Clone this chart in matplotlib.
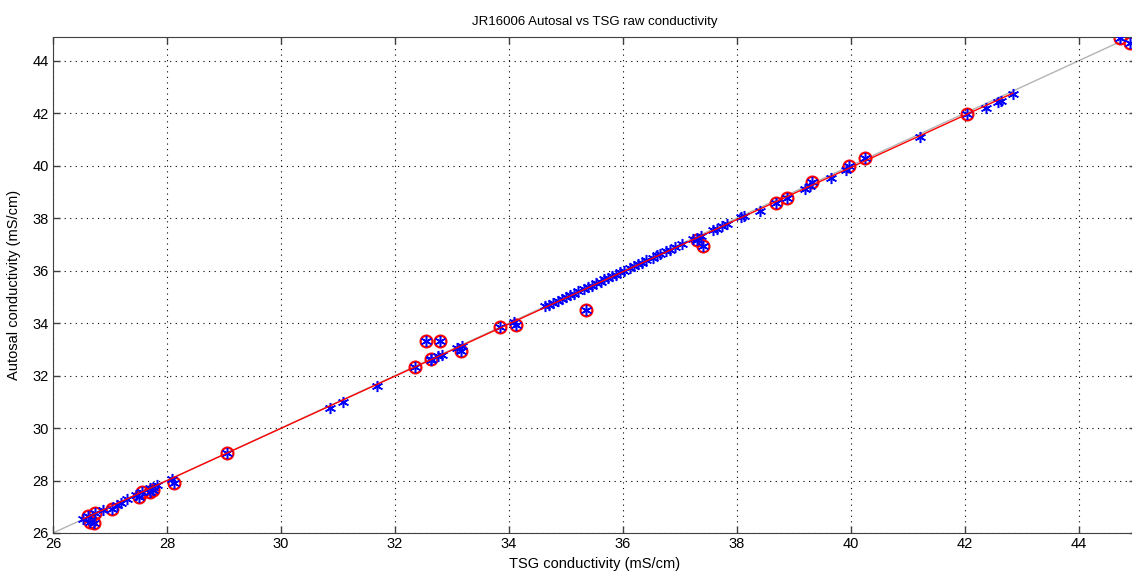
import numpy as np
import matplotlib
matplotlib.use("Agg")
import matplotlib.pyplot as plt

plt.rcParams["font.family"] = ["Liberation Sans Narrow", "Liberation Sans", "DejaVu Sans"]

# samples kept by the fit (TSG vs Autosal, mS/cm)
good_tsg = [26.53, 26.88, 27.12, 27.20, 27.29, 27.45, 27.70, 27.82, 28.08,
            30.86, 31.09, 31.68,
            32.64, 32.76, 32.82, 33.08, 33.17, 34.08,
            34.63, 34.70, 34.77, 34.86, 34.93, 35.00, 35.07, 35.14, 35.21, 35.32,
            35.39, 35.46, 35.53, 35.61, 35.67, 35.74, 35.81, 35.88, 35.95, 36.02,
            36.12, 36.19, 36.26, 36.33, 36.40, 36.53, 36.60, 36.65, 36.75, 36.82,
            36.91, 37.04, 37.23, 37.37, 37.58, 37.65, 37.74, 37.82, 38.07, 38.12,
            38.40, 39.19, 39.28, 39.65, 39.92, 41.21,
            42.37, 42.58, 42.63, 42.84]
good_autosal = [26.52, 26.88, 27.07, 27.16, 27.28, 27.44, 27.70, 27.83, 28.04,
                30.78, 31.00, 31.61,
                32.60, 32.73, 32.79, 33.04, 33.11, 34.05,
                34.64, 34.67, 34.77, 34.83, 34.93, 34.98, 35.06, 35.11, 35.21, 35.29,
                35.38, 35.43, 35.53, 35.58, 35.67, 35.71, 35.80, 35.85, 35.94, 35.99,
                36.11, 36.16, 36.25, 36.30, 36.39, 36.49, 36.59, 36.62, 36.73, 36.78,
                36.89, 37.00, 37.20, 37.32, 37.55, 37.60, 37.71, 37.78, 38.03, 38.07,
                38.27, 39.10, 39.21, 39.53, 39.83, 41.10,
                42.21, 42.44, 42.48, 42.72]

# samples flagged as outliers
bad_tsg = [26.62, 26.74, 26.72, 26.65, 27.03, 27.50, 27.56, 27.70, 27.76, 28.12,
           29.05, 32.35, 32.54, 32.79, 32.63, 33.16, 33.84, 34.12, 35.35,
           37.30, 37.40, 38.68, 38.88, 39.31, 39.97, 40.25, 42.03, 44.72, 44.89]
bad_autosal = [26.65, 26.78, 26.39, 26.43, 26.90, 27.39, 27.58, 27.58, 27.62, 27.92,
               29.06, 32.34, 33.30, 33.33, 32.62, 32.95, 33.86, 33.92, 34.50,
               37.17, 36.94, 38.56, 38.75, 39.37, 40.00, 40.29, 41.95, 44.88, 44.69]

xticks = list(range(26, 45, 2))
yticks = list(range(26, 45, 2))

fig = plt.figure(figsize=(11.32, 5.72), dpi=100)
ax = fig.add_axes([53 / 1132, 39 / 572, 1083 / 1132, 496 / 572])

all_tsg = np.array(good_tsg + bad_tsg)
all_autosal = np.array(good_autosal + bad_autosal)

# 1:1 reference line
ax.plot([26, 45], [26, 45], color="#b4b4b4", lw=1, zorder=1)

ax.plot(bad_tsg, bad_autosal, "o", mfc="none", mec="red", mew=1.6, ms=8.5, zorder=2)
ax.plot(all_tsg, all_autosal, ls="none", marker=(6, 2, 0), color="blue",
        mew=1.1, ms=8, zorder=3)

# linear fit through the kept samples
p = np.polyfit(good_tsg, good_autosal, 1)
fx = np.array([min(good_tsg), max(good_tsg)])
ax.plot(fx, np.polyval(p, fx), color="red", lw=1, zorder=4)

ax.set_xlim(26, 45)
ax.set_ylim(26, 44.9)
ax.set_xticks(xticks)
ax.set_yticks(yticks)
ax.grid(True, color="black", ls=(0, (1, 4)), lw=0.8)
ax.tick_params(direction="in", top=True, right=True, length=5, labelsize=10.5,
               width=1, color="#404040", pad=3)
for s in ax.spines.values():
    s.set_color("#404040")

ax.set_title("JR16006 Autosal vs TSG raw conductivity", fontsize=9.5, pad=9)
ax.set_xlabel("TSG conductivity (mS/cm)", fontsize=10.5, labelpad=4)
ax.set_ylabel("Autosal conductivity (mS/cm)", fontsize=10.5, labelpad=8)

fig.savefig("out.png", dpi=100)
